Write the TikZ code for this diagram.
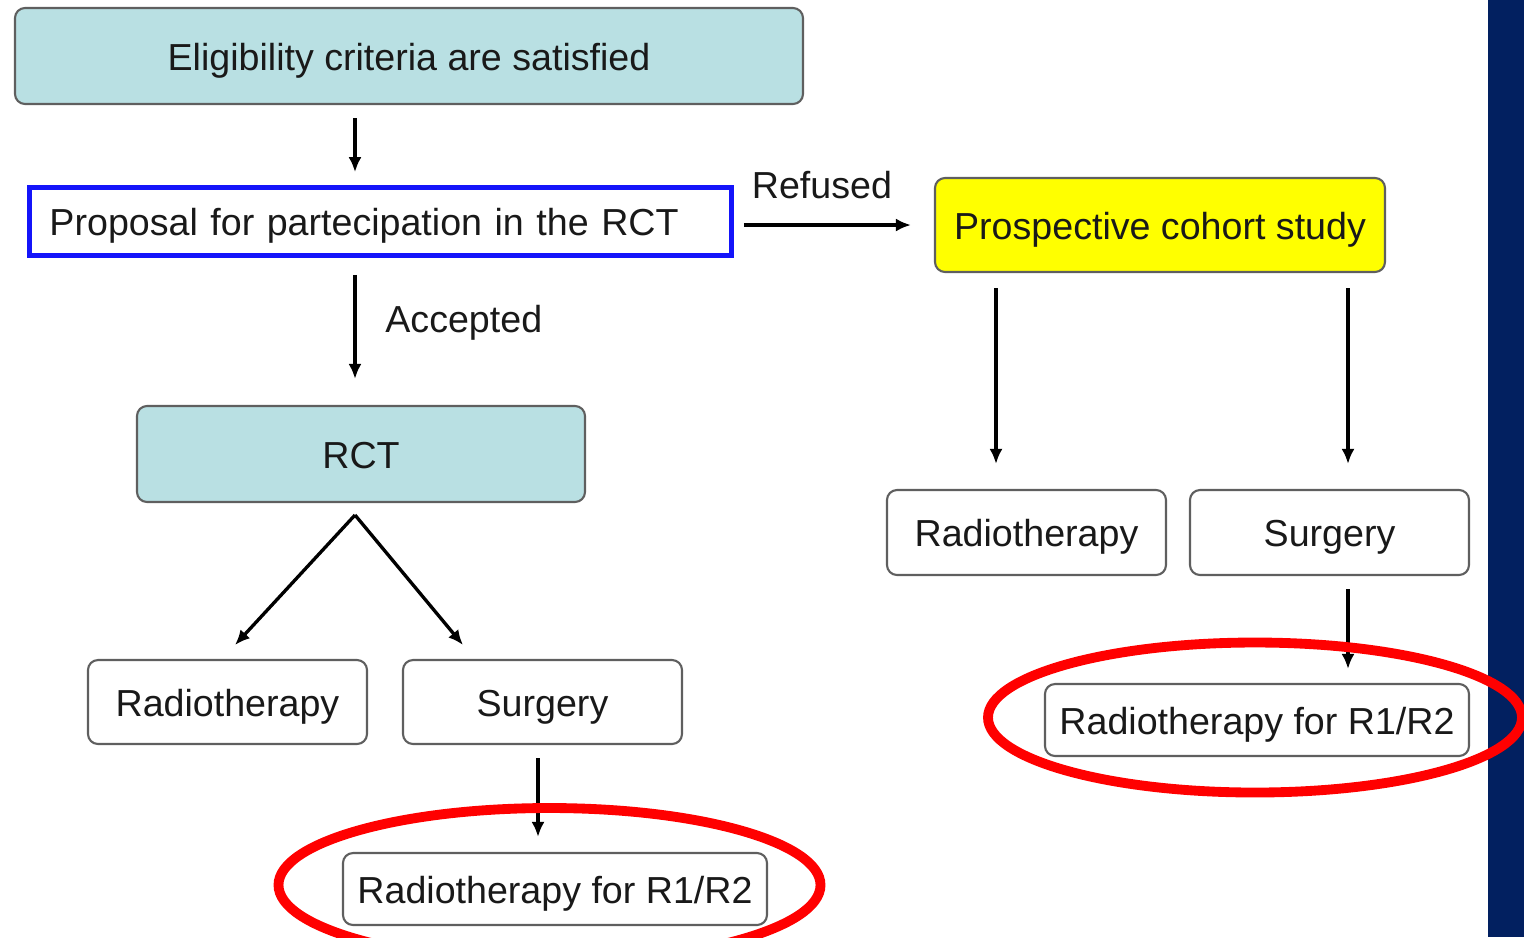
\documentclass[tikz,border=0pt]{standalone}
\usepackage{fontspec}
\setmainfont{Liberation Sans}
\usetikzlibrary{arrows.meta,calc}
\definecolor{boxteal}{RGB}{185,224,227}
\definecolor{boxline}{RGB}{95,95,95}
\definecolor{navybar}{RGB}{2,32,96}
\definecolor{markred}{RGB}{255,0,0}
\definecolor{propblue}{RGB}{20,20,250}
\definecolor{cohortyellow}{RGB}{255,255,0}

\begin{document}
\begin{tikzpicture}[
    every node/.style={font=\fontsize{10.7}{12.8}\selectfont, text=black!90},
    box/.style={draw=boxline, line width=0.6pt, rounded corners=1mm, inner sep=0pt, fill=white, text height=10.3pt, text depth=2.3pt},
    tealbox/.style={box, fill=boxteal},
    arr/.style={-{Latex[length=1.5mm,width=1.3mm]}, line width=0.95pt},
    circled/.style={draw=markred, line width=2.8pt}
]
    \useasboundingbox (0,0) rectangle (15.24,-9.37);
    \clip (0,0) rectangle (15.24,-9.37);
    % side bar
    \fill[navybar] (14.88,0) rectangle (15.24,-9.37);

    % top
    \node[tealbox, minimum width=7.88cm, minimum height=0.96cm] (elig) at (4.09,-0.56) {Eligibility criteria are satisfied};
    \node[draw=propblue, line width=1.4pt, minimum height=0.65cm, text width=6.62cm, inner xsep=0.2cm, align=left, text height=10.3pt, text depth=2.3pt] (prop) at (3.805,-2.215) {Proposal for partecipation in the RCT};
    \node[box, fill=cohortyellow, minimum width=4.5cm, minimum height=0.94cm] (cohort) at (11.6,-2.25) {Prospective cohort study};

    % RCT arm
    \node[tealbox, minimum width=4.48cm, minimum height=0.96cm] (rct) at (3.61,-4.54) {RCT};
    \node[box, minimum width=2.79cm, minimum height=0.84cm] (rad1) at (2.275,-7.02) {Radiotherapy};
    \node[box, minimum width=2.79cm, minimum height=0.84cm] (surg1) at (5.425,-7.02) {Surgery};
    \node[box, minimum width=4.24cm, minimum height=0.72cm] (rtA) at (5.55,-8.89) {Radiotherapy for R1/R2};

    % cohort arm
    \node[box, minimum width=2.79cm, minimum height=0.85cm] (rad2) at (10.265,-5.325) {Radiotherapy};
    \node[box, minimum width=2.79cm, minimum height=0.85cm] (surg2) at (13.295,-5.325) {Surgery};
    \node[box, minimum width=4.24cm, minimum height=0.72cm] (rtB) at (12.57,-7.2) {Radiotherapy for R1/R2};

    % arrows
    \coordinate (spine) at (3.55,-3);
    \coordinate (fork) at (3.55,-5.15);
    \coordinate (tipA) at (2.35,-6.45);
    \coordinate (tipB) at (4.63,-6.45);
    \draw[arr, shorten <=0.13cm, shorten >=0.13cm] (elig.south -| spine) -- (prop.north -| spine);
    \draw[arr, shorten <=0.17cm, shorten >=0.26cm] (prop.south -| spine) -- node[pos=0.44, right=0.17cm] {Accepted} (rct.north -| spine);
    \draw[arr, shorten <=0.1cm, shorten >=0.23cm] (prop.east |- cohort) -- node[pos=0.44, above=0.13cm] {Refused} (cohort.west);
    \draw[arr] (fork) -- (tipA);
    \draw[arr] (fork) -- (tipB);
    \draw[arr, shorten <=0.13cm, shorten >=0.15cm] ([xshift=-0.45mm]surg1.south) -- ([xshift=-0.45mm]rtA.north -| surg1.south);
    \draw[arr, shorten <=0.15cm, shorten >=0.25cm] ([xshift=-3.05mm]rad2.north |- cohort.south) -- ([xshift=-3.05mm]rad2.north);
    \draw[arr, shorten <=0.15cm, shorten >=0.25cm] ([xshift=1.85mm]surg2.north |- cohort.south) -- ([xshift=1.85mm]surg2.north);
    \draw[arr, shorten <=0.13cm, shorten >=0.14cm] ([xshift=1.85mm]surg2.south) -- ([xshift=1.85mm]surg2.south |- rtB.north);

    % red marks
    \draw[circled] (5.495,-8.85) ellipse [x radius=2.71, y radius=0.77];
    \draw[circled] (12.55,-7.175) ellipse [x radius=2.67, y radius=0.75];
\end{tikzpicture}
\end{document}
